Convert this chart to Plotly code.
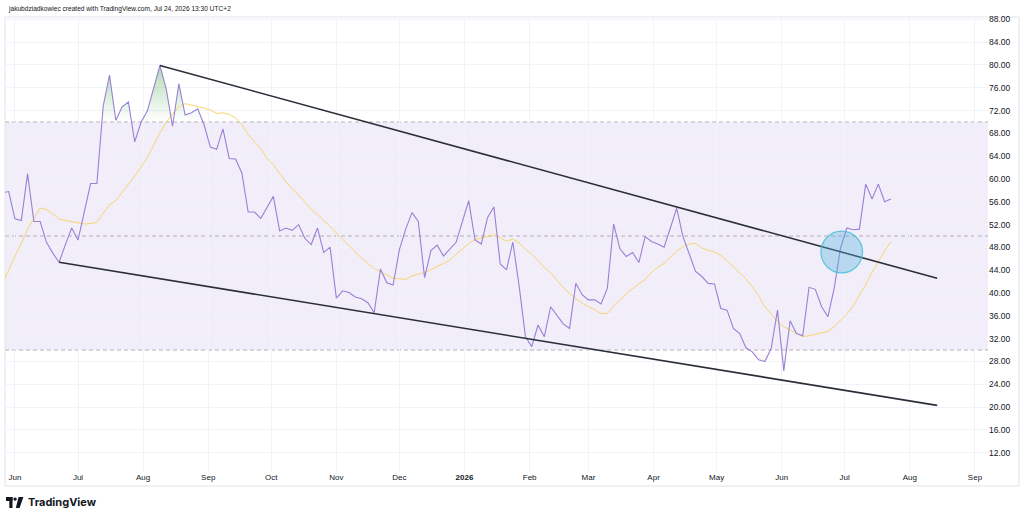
import pandas as pd
import numpy as np
import plotly.graph_objects as go

# ---------------- data ----------------
start_date = "2025-05-26"          # 3-day candles
rsi_values = [
    57.6, 57.8, 53.0, 52.7, 60.9, 52.55, 52.55, 48.9, 47.0, 45.4,
    48.5, 51.4, 49.3, 54.1, 59.2, 59.2, 72.8, 78.2, 70.25, 72.65,
    73.5, 66.5, 69.95, 71.9, 75.9, 79.9, 75.8, 69.25, 76.7, 71.2,
    71.6, 72.3, 69.5, 65.6, 65.2, 68.8, 63.6, 63.5, 61.05, 54.2,
    54.2, 53.1, 55.0, 56.95, 50.9, 51.4, 51.0, 52.0, 49.6, 48.5,
    51.4, 47.1, 48.05, 39.1, 40.4, 40.1, 39.3, 39.0, 38.3, 36.55,
    44.2, 41.8, 41.4, 47.6, 51.2, 54.1, 52.55, 42.7, 47.45, 48.4,
    46.5, 47.7, 48.9, 52.55, 56.2, 49.3, 48.6, 53.25, 55.1, 45.1,
    44.05, 48.95, 41.25, 32.35, 30.6, 34.4, 32.35, 37.6, 36.15, 34.6,
    33.8, 41.7, 39.7, 38.8, 38.8, 38.1, 40.85, 52.1, 47.75, 46.4,
    47.1, 45.35, 49.9, 49.05, 48.6, 48.05, 51.4, 54.9, 49.9, 46.7,
    43.8, 42.9, 41.7, 41.6, 37.3, 37.0, 33.8, 32.9, 30.4, 29.7,
    28.3, 28.0, 30.3, 37.0, 26.35, 35.15, 32.9, 32.5, 41.0, 40.65,
    37.6, 35.85, 40.85, 47.9, 51.4, 51.1, 51.2, 59.1, 56.5, 59.1,
    56.0, 56.5,
]
ma_values = [
    41.5, 44.1, 46.5, 48.7, 51.2, 53.1, 54.9, 54.6, 53.9, 52.95,
    52.75, 52.5, 52.3, 52.1, 52.2, 52.4, 54.0, 55.5, 56.2, 57.6,
    58.95, 60.5, 62.1, 63.8, 65.9, 68.1, 70.0, 71.3, 72.7, 73.2,
    73.0, 72.7, 72.4, 72.1, 71.5, 71.6, 71.3, 70.7, 69.6, 67.8,
    66.5, 65.3, 63.6, 62.5, 61.0, 59.5, 58.3, 57.2, 56.0, 54.6,
    53.8, 52.7, 51.7, 50.5, 49.4, 48.2, 47.1, 46.1, 45.2, 44.3,
    43.7, 43.1, 42.6, 42.5, 42.4, 43.0, 43.3, 43.6, 44.1, 44.6,
    45.2, 45.8, 46.8, 47.7, 48.7, 49.4, 49.7, 50.0, 50.2, 49.7,
    49.1, 49.45, 48.8, 47.7, 46.8, 45.7, 44.5, 43.5, 42.2, 41.0,
    39.9, 39.0, 38.2, 37.6, 37.1, 36.4, 36.4, 37.8, 38.8, 39.7,
    40.8, 41.6, 42.4, 43.6, 44.5, 45.2, 46.3, 47.4, 48.1, 48.6,
    48.7, 47.9, 47.5, 47.2, 46.6, 45.7, 44.6, 43.6, 42.5, 41.1,
    39.5, 37.6, 36.2, 35.0, 34.1, 33.5, 32.9, 32.4, 32.5, 32.8,
    33.0, 33.3, 34.1, 35.2, 36.3, 37.7, 39.5, 41.5, 43.6, 45.6,
    47.4, 49.0,
]
dates = pd.date_range(start_date, periods=len(rsi_values), freq="3D")

# trend channel drawings
upper_line_dates = ["2025-08-09", "2026-08-14"]
upper_line_values = [79.9, 42.6]
lower_line_dates = ["2025-06-22", "2026-08-14"]
lower_line_values = [45.4, 20.3]

# circle marker drawing
circle_center_date = "2026-06-29 14:00"
circle_center_value = 47.2
circle_radius_days = 9.9
circle_radius_value = 3.65

# levels
upper_band, middle_band, lower_band = 70, 50, 30

# axes
x_tick_dates = ["2025-06-01", "2025-07-01", "2025-08-01", "2025-09-01", "2025-10-01",
                "2025-11-01", "2025-12-01", "2026-01-01", "2026-02-01", "2026-03-01",
                "2026-04-01", "2026-05-01", "2026-06-01", "2026-07-01", "2026-08-01",
                "2026-09-01"]
x_tick_labels = ["Jun", "Jul", "Aug", "Sep", "Oct", "Nov", "Dec", "<b>2026</b>", "Feb",
                 "Mar", "Apr", "May", "Jun", "Jul", "Aug", "Sep"]
y_tick_values = list(range(12, 89, 4))
y_tick_labels = [f"{v:.2f}" for v in y_tick_values]
x_range = ["2025-05-27 06:00", "2026-09-07 05:00"]
y_range = [8.8, 88.4]

header_text = "jakubdziadkowiec created with TradingView.com, Jul 24, 2026 13:30 UTC+2"
logo_text = "TradingView"

# ---------------- helpers ----------------
W, H = 1024, 520
ML, MR, MT, MB = 5, 36, 17, 49
PW, PH = W - ML - MR, H - MT - MB


def px(xp):
    return (xp - ML) / PW


def py(yp):
    return (H - MB - yp) / PH


def clipped(level, above):
    """Series clipped at a level with crossing points inserted (for the fills)."""
    t = dates.values.astype("datetime64[ns]").astype(np.int64).astype(float)
    v = np.array(rsi_values, dtype=float)
    xs, ys = [], []
    for i in range(len(v)):
        if i > 0:
            a, b = v[i - 1] - level, v[i] - level
            if a * b < 0:
                f = a / (a - b)
                xs.append(t[i - 1] + f * (t[i] - t[i - 1]))
                ys.append(level)
        xs.append(t[i])
        ys.append(max(v[i], level) if above else min(v[i], level))
    return pd.to_datetime(np.array(xs).astype(np.int64)), ys


fig = go.Figure()

# overbought fill
ob_x, ob_y = clipped(upper_band, True)
fig.add_trace(go.Scatter(x=ob_x, y=[upper_band] * len(ob_x), mode="lines",
                         line=dict(width=0), hoverinfo="skip"))
fig.add_trace(go.Scatter(x=ob_x, y=ob_y, mode="lines", line=dict(width=0),
                         fill="tonexty", hoverinfo="skip",
                         fillgradient=dict(type="vertical", start=upper_band, stop=80,
                                           colorscale=[[0, "rgba(76,175,80,0)"],
                                                       [1, "rgba(76,175,80,0.45)"]])))
# oversold fill
os_x, os_y = clipped(lower_band, False)
fig.add_trace(go.Scatter(x=os_x, y=[lower_band] * len(os_x), mode="lines",
                         line=dict(width=0), hoverinfo="skip"))
fig.add_trace(go.Scatter(x=os_x, y=os_y, mode="lines", line=dict(width=0),
                         fill="tonexty", hoverinfo="skip",
                         fillgradient=dict(type="vertical", start=22, stop=lower_band,
                                           colorscale=[[0, "rgba(242,54,69,0.35)"],
                                                       [1, "rgba(242,54,69,0)"]])))

# RSI-based MA
fig.add_trace(go.Scatter(x=dates, y=ma_values, mode="lines",
                         line=dict(color="#F7D56E", width=1), hoverinfo="skip"))
# RSI
fig.add_trace(go.Scatter(x=dates, y=rsi_values, mode="lines",
                         line=dict(color="#9A7FD6", width=1.1), hoverinfo="skip"))
# channel lines
fig.add_trace(go.Scatter(x=upper_line_dates, y=upper_line_values, mode="lines",
                         line=dict(color="#2A2E39", width=1.6), hoverinfo="skip"))
fig.add_trace(go.Scatter(x=lower_line_dates, y=lower_line_values, mode="lines",
                         line=dict(color="#2A2E39", width=1.6), hoverinfo="skip"))

shapes = []
# RSI band background
shapes.append(dict(type="rect", xref="paper", yref="y", x0=0, x1=1,
                   y0=lower_band, y1=upper_band, fillcolor="rgba(126,87,194,0.10)",
                   line=dict(width=0), layer="below"))
for lvl in (upper_band, middle_band, lower_band):
    shapes.append(dict(type="line", xref="paper", yref="y", x0=0, x1=1, y0=lvl, y1=lvl,
                       line=dict(color="rgba(120,123,134,0.55)", width=1, dash="4px,3px"),
                       layer="below"))
# circle
cc = pd.Timestamp(circle_center_date)
rd = pd.Timedelta(days=circle_radius_days)
shapes.append(dict(type="circle", xref="x", yref="y", x0=cc - rd, x1=cc + rd,
                   y0=circle_center_value - circle_radius_value,
                   y1=circle_center_value + circle_radius_value,
                   fillcolor="rgba(86,182,222,0.38)",
                   line=dict(color="rgba(72,190,220,0.85)", width=1.2), layer="above"))
# outer frame
shapes.append(dict(type="rect", xref="paper", yref="paper", x0=0, x1=px(1019),
                   y0=py(486), y1=1, line=dict(color="#E0E3EB", width=1),
                   fillcolor="rgba(0,0,0,0)", layer="below"))
# TradingView logo icon
logo_col = "#131722"
shapes.append(dict(type="rect", xref="paper", yref="paper", x0=px(6), x1=px(12.5),
                   y0=py(501), y1=py(497), fillcolor=logo_col, line=dict(width=0)))
shapes.append(dict(type="rect", xref="paper", yref="paper", x0=px(9.3), x1=px(12.5),
                   y0=py(508), y1=py(497), fillcolor=logo_col, line=dict(width=0)))
shapes.append(dict(type="circle", xref="paper", yref="paper", x0=px(13.4), x1=px(16.8),
                   y0=py(500.8), y1=py(497.4), fillcolor=logo_col, line=dict(width=0)))
path = "M {} {} L {} {} L {} {} L {} {} Z".format(px(18.6), py(497), px(23.4), py(497),
                                                  px(19.6), py(508), px(15.8), py(508))
shapes.append(dict(type="path", xref="paper", yref="paper", path=path,
                   fillcolor=logo_col, line=dict(width=0)))

annotations = [
    dict(text=header_text, xref="paper", yref="paper", x=px(6), y=py(9),
         xanchor="left", yanchor="middle", showarrow=False,
         font=dict(size=6.6, color="#131722", family="Liberation Sans, Arial")),
    dict(text="<b>" + logo_text + "</b>", xref="paper", yref="paper", x=px(26), y=py(502.5),
         xanchor="left", yanchor="middle", showarrow=False,
         font=dict(size=11, color="#131722", family="Inter, Liberation Sans")),
]

fig.update_layout(
    width=W, height=H,
    margin=dict(l=ML, r=MR, t=MT, b=MB),
    paper_bgcolor="white", plot_bgcolor="white",
    showlegend=False, hovermode=False,
    shapes=shapes, annotations=annotations,
    font=dict(family="Liberation Sans, Arial", size=8, color="#131722"),
    xaxis=dict(type="date", range=x_range, tickvals=x_tick_dates, ticktext=x_tick_labels,
               showgrid=True, gridcolor="#F0F3FA", gridwidth=1, zeroline=False,
               showline=False, ticks="", tickfont=dict(size=8, color="#131722"),
               fixedrange=True),
    yaxis=dict(side="right", range=y_range, tickvals=y_tick_values, ticktext=y_tick_labels,
               showgrid=True, gridcolor="#F0F3FA", gridwidth=1, zeroline=False,
               showline=False, ticks="", tickfont=dict(size=8.5, color="#131722"),
               fixedrange=True),
)

fig.write_html("out.html", config={"displayModeBar": False, "staticPlot": True},
               post_script="document.body.style.margin='0';document.body.style.overflow='hidden';")
